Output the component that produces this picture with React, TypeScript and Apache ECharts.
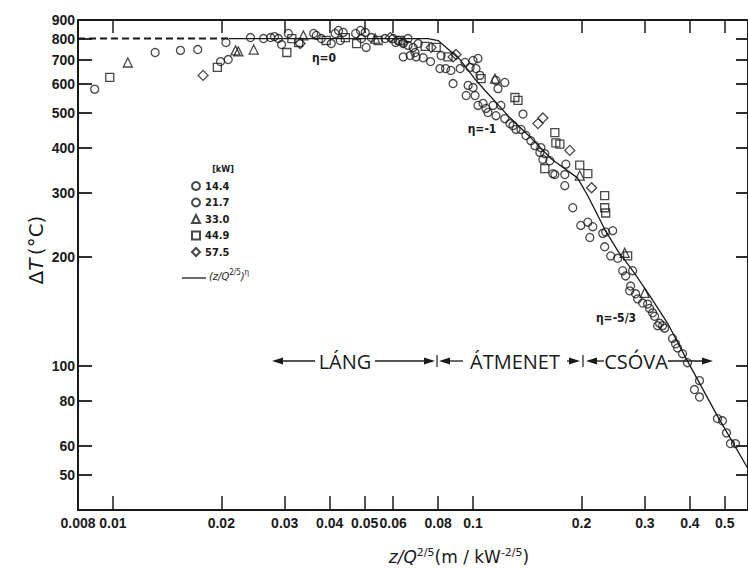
import React, { useEffect, useRef } from 'react';
import * as echarts from 'echarts';

// ---- axis ticks / labels ----
const xTickValues = [0.01, 0.02, 0.03, 0.04, 0.05, 0.06, 0.08, 0.1, 0.2, 0.3, 0.4, 0.5];
const xLabelValues = [0.008, 0.01, 0.02, 0.03, 0.04, 0.05, 0.06, 0.08, 0.1, 0.2, 0.3, 0.4, 0.5];
const xLabelTexts = ['0.008', '0.01', '0.02', '0.03', '0.04', '0.05', '0.06', '0.08', '0.1', '0.2', '0.3', '0.4', '0.5'];
const yTickValues = [50, 60, 80, 100, 200, 300, 400, 500, 600, 700, 800];
const yLabelValues = [50, 60, 80, 100, 200, 300, 400, 500, 600, 700, 800, 900];
const yLabelTexts = ['50', '60', '80', '100', '200', '300', '400', '500', '600', '700', '800', '900'];
const xMin = 0.008;
const xMax = 0.58;
const yMin = 40;
const yMax = 900;

// ---- series (x = z/Q^(2/5), y = ΔT) ----
const circles144 = [
  [0.0089, 580], [0.0154, 742], [0.0199, 691], [0.0206, 780], [0.0262, 800], [0.0281, 810],
  [0.0294, 770], [0.0361, 826], [0.0379, 800], [0.0414, 826], [0.0436, 832], [0.0472, 826],
  [0.0502, 832], [0.0505, 756], [0.057, 800], [0.061, 780], [0.066, 766], [0.0669, 718],
  [0.0682, 756], [0.066, 800], [0.0727, 708], [0.0704, 775], [0.0809, 661], [0.0868, 653],
  [0.095, 687], [0.1032, 705], [0.0981, 666], [0.0969, 594], [0.0957, 557], [0.1045, 633],
  [0.1225, 605], [0.1032, 523], [0.1086, 513], [0.1136, 523], [0.1195, 523], [0.1225, 481],
  [0.1291, 460], [0.1359, 449], [0.1447, 418], [0.1533, 388], [0.1634, 368], [0.1543, 400],
  [0.181, 360], [0.1798, 314], [0.1892, 273], [0.2083, 249], [0.211, 226], [0.2335, 234],
  [0.232, 213], [0.2521, 198], [0.2653, 177], [0.2738, 166], [0.2827, 158], [0.2957, 149],
  [0.3092, 144], [0.3192, 137], [0.3359, 129], [0.3254, 129], [0.365, 115], [0.3816, 108],
  [0.4254, 91], [0.4254, 82], [0.4926, 70.5], [0.5185, 61]
];
const circles217 = [
  [0.0131, 732], [0.0172, 746], [0.0209, 700], [0.0241, 805], [0.0274, 805], [0.0288, 800],
  [0.0307, 826], [0.0367, 816], [0.0404, 775], [0.0423, 842], [0.0428, 790], [0.0487, 842],
  [0.049, 800], [0.0522, 805], [0.06, 800], [0.064, 775], [0.064, 712], [0.069, 732],
  [0.062, 790], [0.0695, 712], [0.0762, 691], [0.0815, 718], [0.0839, 661], [0.0921, 661],
  [0.1, 696], [0.1019, 661], [0.088, 601], [0.1, 586], [0.1013, 557], [0.1158, 613],
  [0.1173, 582], [0.1066, 530], [0.11, 500], [0.1158, 490], [0.1376, 495], [0.1266, 466],
  [0.1316, 449], [0.1402, 432], [0.1485, 405], [0.1582, 385], [0.1666, 339], [0.1563, 371],
  [0.1687, 337], [0.1798, 337], [0.1991, 244], [0.215, 242], [0.2292, 232], [0.2442, 236],
  [0.2411, 201], [0.2603, 183], [0.2774, 183], [0.2722, 161], [0.2864, 153], [0.3053, 148],
  [0.3152, 140], [0.3296, 131], [0.3403, 127], [0.358, 119], [0.3696, 112], [0.394, 102],
  [0.4119, 86], [0.4772, 71.5], [0.5055, 65.3], [0.5353, 61]
];
const triangles330 = [
  [0.011, 687], [0.0219, 742], [0.0223, 737], [0.0246, 746], [0.0338, 816], [0.0535, 800],
  [0.115, 620], [0.1978, 335], [0.2637, 205], [0.2995, 159]
];
const squares449 = [
  [0.0098, 625], [0.0195, 666], [0.0304, 732], [0.0314, 800], [0.0328, 780], [0.0391, 790],
  [0.0442, 805], [0.0475, 775], [0.0545, 790], [0.0627, 790], [0.0736, 761], [0.079, 756],
  [0.0852, 712], [0.1053, 620], [0.1307, 550], [0.1333, 540], [0.1687, 440], [0.1698, 412],
  [0.1582, 350], [0.1742, 409], [0.1978, 358], [0.2083, 339], [0.232, 295], [0.232, 273],
  [0.2335, 264], [0.2687, 201]
];
const diamonds575 = [
  [0.0178, 633], [0.0331, 775], [0.0589, 805], [0.064, 780], [0.0765, 756], [0.088, 712],
  [0.0897, 723], [0.1514, 466], [0.1563, 483], [0.1856, 393], [0.2134, 310]
];
const flameDashed = [[0.008, 800], [0.021, 800]];
const correlationCurve = [
  [0.021, 800], [0.075, 800], [0.08, 790], [0.092, 700], [0.101, 620], [0.108, 575],
  [0.125, 490], [0.145, 425], [0.165, 372], [0.195, 330], [0.208, 295], [0.222, 260],
  [0.232, 238], [0.252, 208], [0.281, 180], [0.311, 155], [0.347, 131], [0.394, 103],
  [0.476, 73], [0.58, 52]
];

const seriesNames = ['14.4', '21.7', '33.0', '44.9', '57.5'];

const L = Math.log10;
const toLog = (pts: number[][]) => pts.map(([x, y]) => [L(x), L(y)]);
const findLabel = (vals: number[], texts: string[], v: number) => {
  for (let i = 0; i < vals.length; i++) if (Math.abs(L(vals[i]) - v) < 1e-6) return texts[i];
  return '';
};

const tickFont = "'Liberation Sans', Arial, sans-serif";
const condFont = "'DejaVu Sans Condensed', 'Liberation Sans', sans-serif";
const ink = '#1a1a1a';

export default function App() {
  const ref = useRef<HTMLDivElement>(null);
  useEffect(() => {
    if (!ref.current) return;
    const chart = echarts.init(ref.current, null, { renderer: 'svg' });
    const markerStyle = { color: 'rgba(0,0,0,0)', borderColor: ink, borderWidth: 1.3 };
    const scatter = (name: string, data: number[][], symbol: string, size: number) => ({
      name, type: 'scatter', data: toLog(data), symbol, symbolSize: size,
      itemStyle: markerStyle, silent: true, z: 3
    });
    const xCommon = {
      type: 'value', min: L(xMin), max: L(xMax), splitLine: { show: false },
      axisLine: { show: true, lineStyle: { color: ink, width: 2 } },
    };
    const yCommon = {
      type: 'value', min: L(yMin), max: L(yMax), splitLine: { show: false },
      axisLine: { show: true, lineStyle: { color: ink, width: 2 } },
    };
    const arrowY = 361;
    const head = (tip: number, dir: number) => ({
      type: 'polygon',
      shape: { points: [[tip, arrowY], [tip - dir * 11, arrowY - 3.5], [tip - dir * 11, arrowY + 3.5]] },
      style: { fill: ink }
    });
    const seg = (x1: number, x2: number) => ({
      type: 'line', shape: { x1, y1: arrowY, x2, y2: arrowY }, style: { stroke: ink, lineWidth: 1.3 }
    });
    const bar = (x: number) => ({
      type: 'line', shape: { x1: x, y1: arrowY - 6, x2: x, y2: arrowY + 6 }, style: { stroke: ink, lineWidth: 1.2 }
    });
    const zoneText = (text: string, x: number) => ({
      type: 'text', x, y: arrowY,
      style: { text, fontFamily: "'Open Sans', sans-serif", fontSize: 20, fill: ink, align: 'center', verticalAlign: 'middle' }
    });
    const etaText = (text: string, x: number, y: number) => ({
      type: 'text', x, y,
      style: { text, fontFamily: condFont, fontWeight: 'bold', fontSize: 12, fill: ink, align: 'center', verticalAlign: 'middle' }
    });

    chart.setOption({
      animation: false,
      backgroundColor: '#ffffff',
      grid: { left: 78, top: 20, width: 672, height: 490, containLabel: false },
      xAxis: [
        {
          ...xCommon, position: 'bottom',
          axisTick: { show: true, inside: true, length: 14, customValues: xTickValues.map(L), lineStyle: { color: ink, width: 1.5 } },
          axisLabel: {
            show: true, customValues: xLabelValues.map(L), margin: 6,
            formatter: (v: number) => findLabel(xLabelValues, xLabelTexts, v),
            fontFamily: tickFont, fontWeight: 'bold', fontSize: 14, color: ink
          }
        },
        {
          ...xCommon, position: 'top',
          axisTick: { show: true, inside: true, length: 13, customValues: xTickValues.map(L), lineStyle: { color: ink, width: 1.5 } },
          axisLabel: { show: false }
        }
      ],
      yAxis: [
        {
          ...yCommon, position: 'left',
          axisTick: { show: true, inside: true, length: 14, customValues: yTickValues.map(L), lineStyle: { color: ink, width: 1.8 } },
          axisLabel: {
            show: true, customValues: yLabelValues.map(L), margin: 3,
            formatter: (v: number) => findLabel(yLabelValues, yLabelTexts, v),
            fontFamily: tickFont, fontWeight: 'bold', fontSize: 14, color: ink
          }
        },
        {
          ...yCommon, position: 'right',
          axisTick: { show: true, inside: true, length: 12, customValues: yTickValues.map(L), lineStyle: { color: ink, width: 1.8 } },
          axisLabel: { show: false }
        }
      ],
      legend: {
        data: seriesNames, orient: 'vertical', left: 191, top: 179, padding: 0,
        itemWidth: 8, itemHeight: 8, itemGap: 2.5, selectedMode: false,
        textStyle: { fontFamily: condFont, fontWeight: 'bold', fontSize: 11, color: ink, lineHeight: 14 }
      },
      series: [
        scatter('14.4', circles144, 'circle', 8),
        scatter('21.7', circles217, 'circle', 8),
        scatter('33.0', triangles330, 'triangle', 9),
        scatter('44.9', squares449, 'rect', 8),
        scatter('57.5', diamonds575, 'diamond', 10),
        {
          name: 'flame', type: 'line', data: toLog(flameDashed), symbol: 'none', silent: true,
          lineStyle: { color: ink, width: 2, type: [7, 4] }, z: 2
        },
        {
          name: 'curve', type: 'line', data: toLog(correlationCurve), symbol: 'none', silent: true,
          lineStyle: { color: ink, width: 1.3 }, z: 2
        }
      ],
      graphic: [
        etaText('η=0', 324, 58),
        etaText('η=-1', 482, 129),
        etaText('η=-5/3', 616, 318),
        {
          type: 'text', x: 223, y: 169,
          style: { text: '[kW]', fontFamily: condFont, fontWeight: 'bold', fontSize: 9, fill: ink, align: 'center', verticalAlign: 'middle' }
        },
        { type: 'line', shape: { x1: 182, y1: 278, x2: 206, y2: 278 }, style: { stroke: ink, lineWidth: 1.3 } },
        {
          type: 'text', x: 209, y: 276,
          style: {
            text: '{i|(z/Q}{s|2/5}{i|)}{s|η}', align: 'left', verticalAlign: 'middle', fill: ink,
            rich: {
              i: { fontFamily: condFont, fontStyle: 'italic', fontSize: 11, lineHeight: 16, fill: ink },
              s: { fontFamily: condFont, fontSize: 8, lineHeight: 10, padding: [0, 0, 8, 0], fill: ink }
            }
          }
        },
        // zone arrows
        head(272, -1), seg(282, 315), zoneText('LÁNG', 345),
        seg(375, 425), head(435, 1), bar(437),
        head(439, -1), seg(449, 463), zoneText('ÁTMENET', 515),
        seg(567, 570), head(580, 1), bar(583),
        head(586, -1), seg(596, 604), zoneText('CSÓVA', 636),
        seg(668, 703), head(713, 1),
        // axis titles
        {
          type: 'text', x: 36, y: 250, rotation: Math.PI / 2,
          style: {
            text: '{n|Δ}{i|T} {n|(°C)}', align: 'center', verticalAlign: 'middle', fill: ink,
            rich: {
              n: { fontFamily: "'DejaVu Sans', sans-serif", fontSize: 20, fill: ink },
              i: { fontFamily: "'DejaVu Sans', sans-serif", fontStyle: 'italic', fontSize: 20, fill: ink }
            }
          }
        },
        {
          type: 'text', x: 459, y: 557,
          style: {
            text: '{i|z/Q}{s|2/5}{n|(m / kW}{s|-2/5}{n|)}', align: 'center', verticalAlign: 'middle', fill: ink,
            rich: {
              i: { fontFamily: "'DejaVu Sans', sans-serif", fontStyle: 'italic', fontSize: 17, lineHeight: 22, fill: ink },
              n: { fontFamily: "'DejaVu Sans', sans-serif", fontSize: 17, lineHeight: 22, fill: ink },
              s: { fontFamily: "'DejaVu Sans', sans-serif", fontSize: 11, lineHeight: 13, padding: [0, 0, 9, 0], fill: ink }
            }
          }
        }
      ]
    });
    return () => chart.dispose();
  }, []);
  return (
    <div
      ref={ref}
      style={{ position: 'fixed', left: 0, top: 0, width: 748, height: 568, background: '#fff' }}
    />
  );
}
